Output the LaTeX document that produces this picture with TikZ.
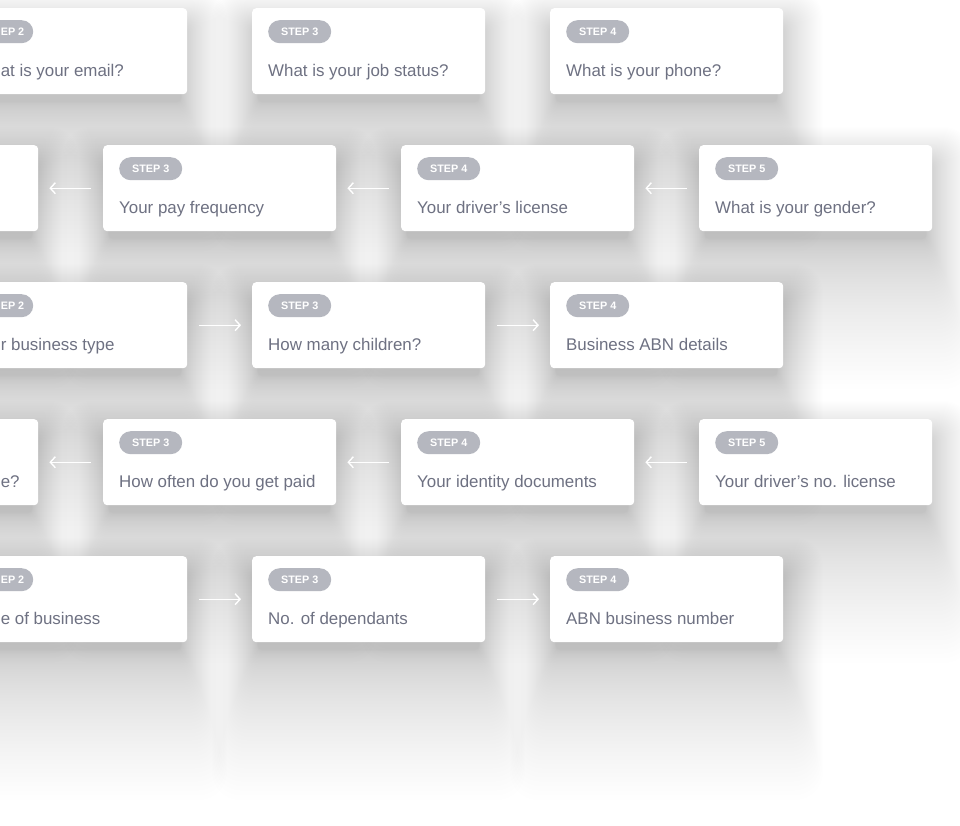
\documentclass[tikz,border=0pt]{standalone}
\usepackage{fontspec}
\setmainfont{Liberation Sans}
\usetikzlibrary{arrows.meta}
\definecolor{qtxt}{HTML}{6E7182}
\definecolor{bdg}{HTML}{B5B7BF}
\tikzset{
 card/.style={rectangle, fill=white, rounded corners=4pt, minimum width=233pt, minimum height=86pt, inner sep=0pt, anchor=north west},
 badge/.style={rectangle, fill=bdg, rounded corners=11.5pt, minimum width=63pt, minimum height=23pt, inner sep=0pt, text=white, font=\bfseries\fontsize{10.8}{13}\selectfont, anchor=north west},
 badgetext/.style={text=white, font=\bfseries\fontsize{10.8}{13}\selectfont, inner sep=0pt, anchor=base west},
 qtext/.style={text=qtxt, font=\fontsize{16.9}{20}\selectfont, inner sep=0pt, anchor=base west},
 flow/.style={draw=white, line width=1.4pt, -{Straight Barb[length=5pt,width=11pt]}, shorten >=11pt, shorten <=12pt},
}
\newcommand\shadowat[2]{%
 \foreach \i in {1,...,60}{%
   \pgfmathsetmacro\tt{(\i/60)^1.5}%
   \pgfmathsetmacro\tb{(\i/60)^1.9}%
   \pgfmathsetmacro\rr{4+24*\tt}%
   \fill[black, fill opacity=0.003, rounded corners=\rr pt] ({#1+6-46*\tt},{#2+22-40*\tt}) rectangle ({#1+227+46*\tt},{#2+94+150*\tb});
 }}
\newcommand\qcard[5]{%
  \node[card] (#1) at (#2,#3) {};
  \node[badge] (#1b) at ([xshift=16pt,yshift=-12pt]#1.north west) {#4};
  \node[qtext] (#1t) at ([xshift=16pt,yshift=-68pt]#1.north west) {#5};
}
\begin{document}
\begin{tikzpicture}[x=1pt,y=-1pt]
\useasboundingbox (0,0) rectangle (960,825);
\fill[white] (0,0) rectangle (960,825);
\clip (0,0) rectangle (960,825);
% shadows
\foreach \x in {-46,252,550}{\shadowat{\x}{8}\shadowat{\x}{282}\shadowat{\x}{556}}
\foreach \x in {-195,103,401,699}{\shadowat{\x}{145}\shadowat{\x}{419}}
% row 1
\node[card] (r1c1) at (-46,8) {};
\node[badge] (r1c1b) at ([xshift=16pt,yshift=-12pt]r1c1.north west) {};
\node[badgetext] (r1c1bt) at (0.6,35.6) {EP 2};
\node[qtext] (r1c1t) at (0.6,76) {at is your email?};
\qcard{r1c2}{252}{8}{STEP 3}{What is your job status?}
\qcard{r1c3}{550}{8}{STEP 4}{What is your phone?}
% row 2
\node[card] (r2c1) at (-195,145) {};
\qcard{r2c2}{103}{145}{STEP 3}{Your pay frequency}
\qcard{r2c3}{401}{145}{STEP 4}{Your driver’s license}
\qcard{r2c4}{699}{145}{STEP 5}{What is your gender?}
% row 3
\node[card] (r3c1) at (-46,282) {};
\node[badge] (r3c1b) at ([xshift=16pt,yshift=-12pt]r3c1.north west) {};
\node[badgetext] (r3c1bt) at (0.6,309.6) {EP 2};
\node[qtext] (r3c1t) at (0.6,350) {r business type};
\qcard{r3c2}{252}{282}{STEP 3}{How many children?}
\qcard{r3c3}{550}{282}{STEP 4}{Business ABN details}
% row 4
\node[card] (r4c1) at (-195,419) {};
\node[qtext] (r4c1t) at (0.6,487) {e?};
\qcard{r4c2}{103}{419}{STEP 3}{How often do you get paid}
\qcard{r4c3}{401}{419}{STEP 4}{Your identity documents}
\qcard{r4c4}{699}{419}{STEP 5}{Your driver’s no. license}
% row 5
\node[card] (r5c1) at (-46,556) {};
\node[badge] (r5c1b) at ([xshift=16pt,yshift=-12pt]r5c1.north west) {};
\node[badgetext] (r5c1bt) at (0.6,583.6) {EP 2};
\node[qtext] (r5c1t) at (0.6,624) {e of business};
\qcard{r5c2}{252}{556}{STEP 3}{No. of dependants}
\qcard{r5c3}{550}{556}{STEP 4}{ABN business number}
% arrows
\draw[flow] (r2c2.west) -- (r2c1.east);
\draw[flow] (r2c3.west) -- (r2c2.east);
\draw[flow] (r2c4.west) -- (r2c3.east);
\draw[flow] (r3c1.east) -- (r3c2.west);
\draw[flow] (r3c2.east) -- (r3c3.west);
\draw[flow] (r4c2.west) -- (r4c1.east);
\draw[flow] (r4c3.west) -- (r4c2.east);
\draw[flow] (r4c4.west) -- (r4c3.east);
\draw[flow] (r5c1.east) -- (r5c2.west);
\draw[flow] (r5c2.east) -- (r5c3.west);
\end{tikzpicture}
\end{document}
